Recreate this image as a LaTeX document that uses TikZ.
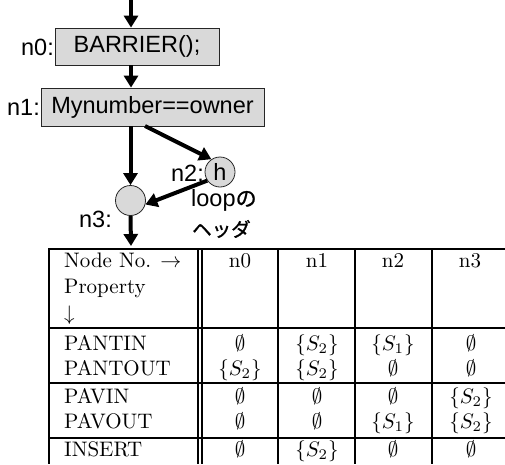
\documentclass[tikz,border=0pt]{standalone}
\usepackage{fontspec}
\usetikzlibrary{arrows.meta}
\newfontfamily\arialf{Liberation Sans}
\newfontfamily\jpf{Noto Sans CJK JP}[FakeBold=1.2]
\newcommand\tabtxt[1]{\scalebox{2.1}{\fontsize{10}{12}\selectfont #1}}
\tikzset{
  x=1pt, y=-1pt,
  flow/.style={line width=4pt, -{Triangle[length=12pt,width=14pt]}},
  graybox/.style={draw=black!85, line width=0.8pt, fill=black!15, inner sep=0pt, font=\arialf\fontsize{23.5}{26}\selectfont},
  graycirc/.style={circle, draw=black!85, line width=0.8pt, fill=black!15, minimum size=30pt, inner sep=0pt, font=\arialf\fontsize{23.5}{26}\selectfont},
  lbl/.style={font=\arialf\fontsize{23.5}{26}\selectfont, inner sep=0pt},
  tline/.style={line width=2.6pt},
  cell/.style={inner sep=0pt, anchor=base},
  lcell/.style={cell, anchor=base west}
}
\begin{document}
\begin{tikzpicture}
\useasboundingbox (0,0) rectangle (505,464);
% flowchart
\node[graybox, minimum width=164pt, minimum height=37pt] (n0) at (137,46.5) {BARRIER();};
\node[graybox, minimum width=223pt, minimum height=38pt] (n1) at (152.5,107) {Mynumber==owner};
\node[graycirc] (n2) at (220,172) {h};
\node[graycirc] (n3) at (130.5,200.5) {};
\node[lbl, anchor=east] (l0) at (54,47) {n0:};
\node[lbl, anchor=east] (l1) at (40,107) {n1:};
\node[lbl, anchor=east] (l2) at (204,173) {n2:};
\node[lbl, anchor=east] (l3) at (112,219) {n3:};
\node[lbl, anchor=west] (lp) at (191,200) {loop{\jpf\fontsize{21}{24}\selectfont の}};
\node[lbl, anchor=west] (hd) at (192,229) {\jpf\fontsize{19.5}{24}\selectfont ヘッダ};
\coordinate (top) at (131,0);
\coordinate (s12) at (145,126);
\coordinate (out) at (131,246);
\draw[flow] (top) -- (top |- n0.north);
\draw[flow] (top |- n0.south) -- (top |- n1.north);
\draw[flow] (n3 |- n1.south) -- (n3.north);
\draw[flow] (s12) -- (n2.124);
\draw[flow] (n2.214) -- (n3.-15);
\draw[flow] (n3.south) -- (out);
% table lines
\draw[tline] (48,249) -- (505,249);
\draw[tline] (48,328) -- (505,328);
\draw[tline] (48,383) -- (505,383);
\draw[tline] (48,438) -- (505,438);
\draw[tline] (49,248) -- (49,464);
\draw[line width=2pt] (198,248) -- (198,464);
\draw[line width=2pt] (201.8,248) -- (201.8,464);
\draw[tline] (278,248) -- (278,464);
\draw[tline] (355,248) -- (355,464);
\draw[tline] (432,248) -- (432,464);
% table text
\node[lcell] (h1) at (64,267) {\tabtxt{Node No. $\rightarrow$}};
\node[lcell] (h2) at (64,293) {\tabtxt{Property}};
\node[lcell] (h3) at (64,320) {\tabtxt{$\downarrow$}};
\node[lcell] (r1) at (64,350) {\tabtxt{PANTIN}};
\node[lcell] (r2) at (64,375) {\tabtxt{PANTOUT}};
\node[lcell] (r3) at (64,403) {\tabtxt{PAVIN}};
\node[lcell] (r4) at (64,428) {\tabtxt{PAVOUT}};
\node[lcell] (r5) at (64,456) {\tabtxt{INSERT}};
\foreach \x/\t [count=\i from 0] in {240/n0, 317/n1, 393/n2, 470/n3} {
  \node[cell] (c\i) at (\x,267) {\tabtxt{\t}};
}
% rows
\node[cell] (a0) at (240,350) {\tabtxt{$\emptyset$}};
\node[cell] (a1) at (317,350) {\tabtxt{$\{S_2\}$}};
\node[cell] (a2) at (393,350) {\tabtxt{$\{S_1\}$}};
\node[cell] (a3) at (471,350) {\tabtxt{$\emptyset$}};
\node[cell] (b0) at (240,375) {\tabtxt{$\{S_2\}$}};
\node[cell] (b1) at (317,375) {\tabtxt{$\{S_2\}$}};
\node[cell] (b2) at (393,375) {\tabtxt{$\emptyset$}};
\node[cell] (b3) at (471,375) {\tabtxt{$\emptyset$}};
\node[cell] (d0) at (240,403) {\tabtxt{$\emptyset$}};
\node[cell] (d1) at (317,403) {\tabtxt{$\emptyset$}};
\node[cell] (d2) at (393,403) {\tabtxt{$\emptyset$}};
\node[cell] (d3) at (471,403) {\tabtxt{$\{S_2\}$}};
\node[cell] (e0) at (240,428) {\tabtxt{$\emptyset$}};
\node[cell] (e1) at (317,428) {\tabtxt{$\emptyset$}};
\node[cell] (e2) at (393,428) {\tabtxt{$\{S_1\}$}};
\node[cell] (e3) at (471,428) {\tabtxt{$\{S_2\}$}};
\node[cell] (f0) at (240,456) {\tabtxt{$\emptyset$}};
\node[cell] (f1) at (317,456) {\tabtxt{$\{S_2\}$}};
\node[cell] (f2) at (393,456) {\tabtxt{$\emptyset$}};
\node[cell] (f3) at (471,456) {\tabtxt{$\emptyset$}};
\end{tikzpicture}
\end{document}
